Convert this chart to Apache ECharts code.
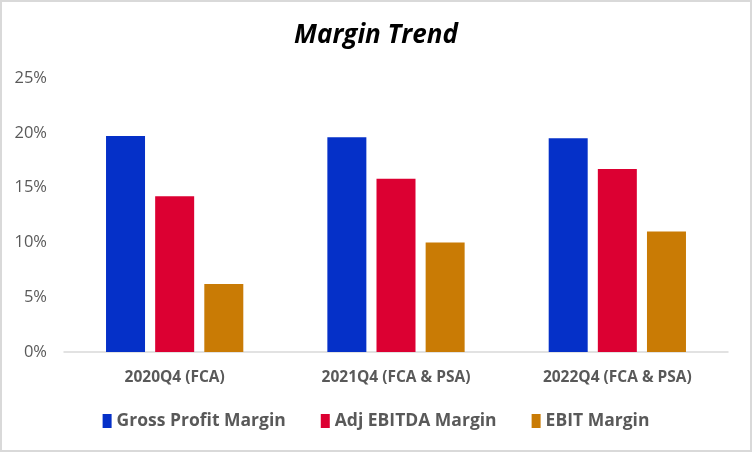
<!DOCTYPE html>
<html>
<head>
<meta charset="utf-8">
<script src="https://cdn.jsdelivr.net/npm/echarts@6/dist/echarts.min.js"></script>
<style>
html,body{margin:0;padding:0;background:#fff;}
#c{width:752px;height:452px;box-sizing:border-box;border:2px solid #d9d9d9;background:#fff;}
</style>
</head>
<body>
<div id="c"></div>
<script>
var categories = ['2020Q4 (FCA)', '2021Q4 (FCA & PSA)', '2022Q4 (FCA & PSA)'];
var grossProfitMargin = [19.7, 19.6, 19.5];
var adjEbitdaMargin = [14.2, 15.8, 16.7];
var ebitMargin = [6.2, 10.0, 11.0];
var seriesNames = ['Gross Profit Margin', 'Adj EBITDA Margin', 'EBIT Margin'];
var yTicks = {min: 0, max: 25, interval: 5};

var chart = echarts.init(document.getElementById('c'), null, {renderer: 'canvas'});
var font = '"Open Sans", "Noto Sans", sans-serif';
chart.setOption({
  animation: false,
  backgroundColor: '#fff',
  title: {
    text: 'Margin Trend',
    left: 'center',
    top: 16,
    textStyle: {fontFamily: font, fontSize: 26, fontWeight: 'bold', fontStyle: 'italic', color: '#000'}
  },
  legend: {
    data: seriesNames,
    bottom: 15,
    left: 'center',
    icon: 'rect',
    itemWidth: 9,
    itemHeight: 14,
    itemGap: 35,
    textStyle: {fontFamily: font, fontSize: 17.5, fontWeight: 'bold', color: '#595959'}
  },
  grid: {left: 62, right: 22, top: 76, bottom: 98, containLabel: false},
  xAxis: {
    type: 'category',
    data: categories,
    axisLine: {lineStyle: {color: '#d9d9d9', width: 1.5}},
    axisTick: {show: false},
    axisLabel: {fontFamily: font, fontSize: 15.5, fontWeight: 'bold', color: '#595959', margin: 18}
  },
  yAxis: {
    type: 'value',
    min: yTicks.min, max: yTicks.max, interval: yTicks.interval,
    splitLine: {show: false},
    axisLine: {show: false},
    axisTick: {show: false},
    axisLabel: {formatter: '{value}%', fontFamily: font, fontSize: 16.5, color: '#595959', margin: 17}
  },
  series: [
    {name: seriesNames[0], type: 'bar', data: grossProfitMargin, barWidth: 39, barGap: '26%', itemStyle: {color: '#0530C8'}},
    {name: seriesNames[1], type: 'bar', data: adjEbitdaMargin, barWidth: 39, barGap: '26%', itemStyle: {color: '#DC0032'}},
    {name: seriesNames[2], type: 'bar', data: ebitMargin, barWidth: 39, barGap: '26%', itemStyle: {color: '#C97B05'}}
  ]
});
</script>
</body>
</html>
